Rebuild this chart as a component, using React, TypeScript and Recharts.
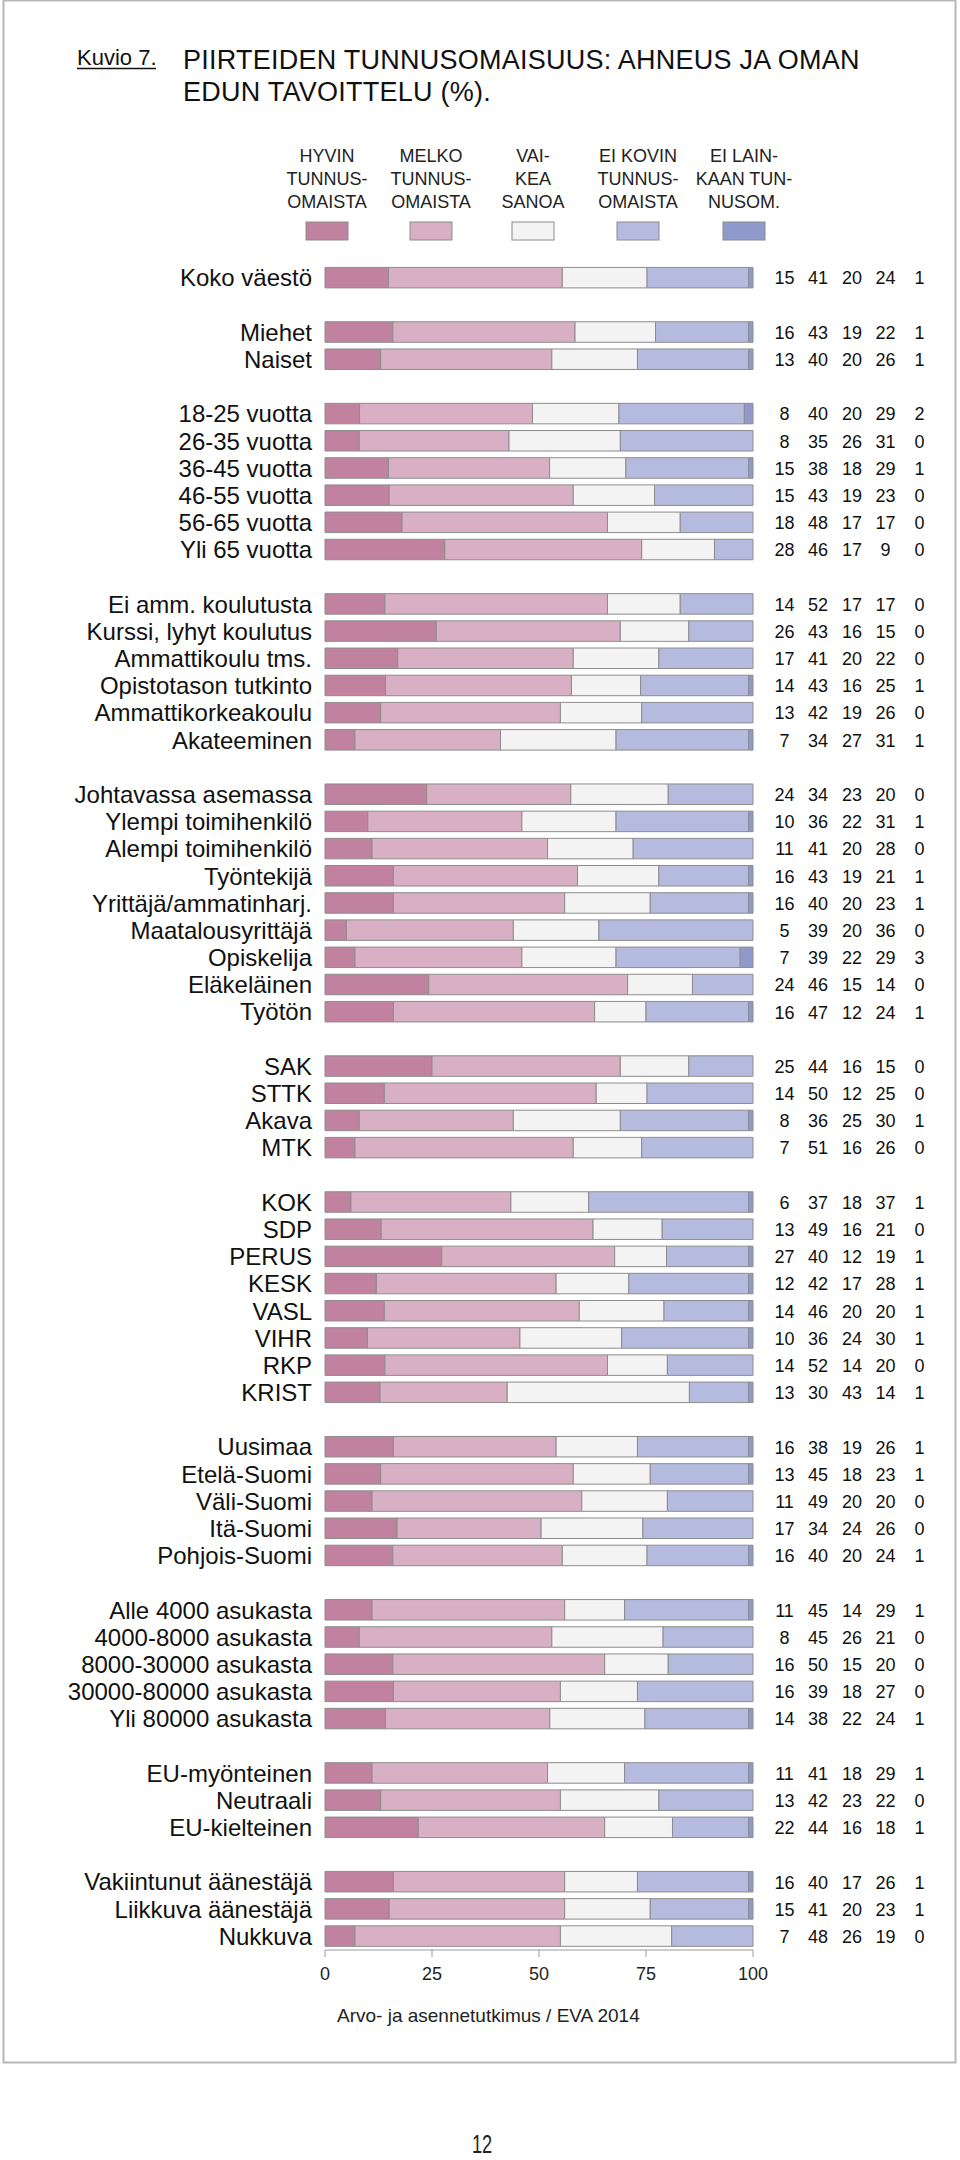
import React from "react";
import { BarChart, Bar, XAxis, YAxis } from "recharts";

const FONT = "'Liberation Sans', Arial, Helvetica, sans-serif";

const categories = [
  "Koko väestö",
  "Miehet", "Naiset",
  "18-25 vuotta", "26-35 vuotta", "36-45 vuotta", "46-55 vuotta", "56-65 vuotta", "Yli 65 vuotta",
  "Ei amm. koulutusta", "Kurssi, lyhyt koulutus", "Ammattikoulu tms.", "Opistotason tutkinto", "Ammattikorkeakoulu", "Akateeminen",
  "Johtavassa asemassa", "Ylempi toimihenkilö", "Alempi toimihenkilö", "Työntekijä", "Yrittäjä/ammatinharj.", "Maatalousyrittäjä", "Opiskelija", "Eläkeläinen", "Työtön",
  "SAK", "STTK", "Akava", "MTK",
  "KOK", "SDP", "PERUS", "KESK", "VASL", "VIHR", "RKP", "KRIST",
  "Uusimaa", "Etelä-Suomi", "Väli-Suomi", "Itä-Suomi", "Pohjois-Suomi",
  "Alle 4000 asukasta", "4000-8000 asukasta", "8000-30000 asukasta", "30000-80000 asukasta", "Yli 80000 asukasta",
  "EU-myönteinen", "Neutraali", "EU-kielteinen",
  "Vakiintunut äänestäjä", "Liikkuva äänestäjä", "Nukkuva",
];

const groupSizes = [1, 2, 6, 6, 9, 4, 8, 5, 5, 3, 3];

const hyvin = [15, 16, 13, 8, 8, 15, 15, 18, 28, 14, 26, 17, 14, 13, 7, 24, 10, 11, 16, 16, 5, 7, 24, 16, 25, 14, 8, 7, 6, 13, 27, 12, 14, 10, 14, 13, 16, 13, 11, 17, 16, 11, 8, 16, 16, 14, 11, 13, 22, 16, 15, 7];
const melko = [41, 43, 40, 40, 35, 38, 43, 48, 46, 52, 43, 41, 43, 42, 34, 34, 36, 41, 43, 40, 39, 39, 46, 47, 44, 50, 36, 51, 37, 49, 40, 42, 46, 36, 52, 30, 38, 45, 49, 34, 40, 45, 45, 50, 39, 38, 41, 42, 44, 40, 41, 48];
const vaikea = [20, 19, 20, 20, 26, 18, 19, 17, 17, 17, 16, 20, 16, 19, 27, 23, 22, 20, 19, 20, 20, 22, 15, 12, 16, 12, 25, 16, 18, 16, 12, 17, 20, 24, 14, 43, 19, 18, 20, 24, 20, 14, 26, 15, 18, 22, 18, 23, 16, 17, 20, 26];
const eiKovin = [24, 22, 26, 29, 31, 29, 23, 17, 9, 17, 15, 22, 25, 26, 31, 20, 31, 28, 21, 23, 36, 29, 14, 24, 15, 25, 30, 26, 37, 21, 19, 28, 20, 30, 20, 14, 26, 23, 20, 26, 24, 29, 21, 20, 27, 24, 29, 22, 18, 26, 23, 19];
const eiLainkaan = [1, 1, 1, 2, 0, 1, 0, 0, 0, 0, 0, 0, 1, 0, 1, 0, 1, 0, 1, 1, 0, 3, 0, 1, 0, 0, 1, 0, 1, 0, 1, 1, 1, 1, 0, 1, 1, 1, 0, 0, 1, 1, 0, 0, 0, 1, 1, 0, 1, 1, 1, 0];

const seriesKeys = ["hyvin", "melko", "vaikea", "eiKovin", "eiLainkaan"];
const seriesColors = ["#c1829f", "#d9b0c3", "#f3f3f3", "#b4bbdf", "#8f99cc"];
const legendLines = [
  ["HYVIN", "TUNNUS-", "OMAISTA"],
  ["MELKO", "TUNNUS-", "OMAISTA"],
  ["VAI-", "KEA", "SANOA"],
  ["EI KOVIN", "TUNNUS-", "OMAISTA"],
  ["EI LAIN-", "KAAN TUN-", "NUSOM."],
];
const xTicks = [0, 25, 50, 75, 100];

type Row = {
  id: string;
  label: string;
  gap: boolean;
  hyvin: number | null;
  melko: number | null;
  vaikea: number | null;
  eiKovin: number | null;
  eiLainkaan: number | null;
};

const rows: Row[] = [];
{
  let k = 0;
  groupSizes.forEach((size, g) => {
    for (let i = 0; i < size; i++) {
      rows.push({
        id: "r" + k,
        label: categories[k],
        gap: false,
        hyvin: hyvin[k],
        melko: melko[k],
        vaikea: vaikea[k],
        eiKovin: eiKovin[k],
        eiLainkaan: eiLainkaan[k],
      });
      k++;
    }
    if (g < groupSizes.length - 1) {
      rows.push({ id: "g" + g, label: "", gap: true, hyvin: null, melko: null, vaikea: null, eiKovin: null, eiLainkaan: null });
    }
  });
}
const rowById: Record<string, Row> = {};
rows.forEach((r) => (rowById[r.id] = r));

const LeftTick = (props: any) => {
  const { x, y, payload } = props;
  const row = rowById[payload.value];
  if (!row || row.gap) return null;
  return (
    <text x={x} y={y} dy="0.35em" textAnchor="end" fontFamily={FONT} fontSize={24} fill="#111">
      {row.label}
    </text>
  );
};

const colOffsets = [31.5, 65, 99, 132.5, 166.5];

const RightTick = (props: any) => {
  const { x, y, payload } = props;
  const row = rowById[payload.value];
  if (!row || row.gap) return null;
  const vals = [row.hyvin, row.melko, row.vaikea, row.eiKovin, row.eiLainkaan];
  return (
    <g>
      {vals.map((v, i) => (
        <text key={i} x={x + colOffsets[i]} y={y} dy="0.36em" textAnchor="middle" fontFamily={FONT} fontSize={18} fill="#111">
          {v}
        </text>
      ))}
    </g>
  );
};

const legendCx = [327, 431, 533, 638, 744];

export default function App() {
  return (
    <div style={{ position: "absolute", left: 0, top: 0, width: 960, height: 2160, background: "#fff" }}>
      <svg width={960} height={2160} style={{ position: "absolute", left: 0, top: 0 }}>
        <rect x={3.5} y={0.5} width={952} height={2062} fill="none" stroke="#b8b8b8" strokeWidth={2} />
        <text x={77} y={65} fontFamily={FONT} fontSize={22} fill="#111">Kuvio 7.</text>
        <line x1={77} x2={156} y1={68.5} y2={68.5} stroke="#111" strokeWidth={1.3} />
        <text x={183} y={69} fontFamily={FONT} fontSize={27} letterSpacing={0.25} fill="#111">
          PIIRTEIDEN TUNNUSOMAISUUS: AHNEUS JA OMAN
        </text>
        <text x={183} y={101} fontFamily={FONT} fontSize={27} letterSpacing={0.25} fill="#111">
          EDUN TAVOITTELU (%).
        </text>
        {legendLines.map((lines, i) => (
          <g key={i}>
            {lines.map((ln, j) => (
              <text key={j} x={legendCx[i]} y={162 + j * 23} textAnchor="middle" fontFamily={FONT} fontSize={18} fill="#222">
                {ln}
              </text>
            ))}
            <rect x={legendCx[i] - 21} y={222} width={42} height={18} fill={seriesColors[i]} stroke="#8c8c8c" strokeWidth={1} />
          </g>
        ))}
        <text x={337} y={2022} fontFamily={FONT} fontSize={19} fill="#222">
          Arvo- ja asennetutkimus / EVA 2014
        </text>
        <text transform="translate(482,2153) scale(0.7,1)" textAnchor="middle" fontFamily={FONT} fontSize={26} fill="#222">
          12
        </text>
      </svg>
      <div style={{ position: "absolute", left: 0, top: 0 }}>
        <BarChart
          width={960}
          height={2000}
          data={rows}
          layout="vertical"
          stackOffset="expand"
          margin={{ top: 264.4, right: 0, bottom: 10, left: 0 }}
        >
          <XAxis
            type="number"
            domain={[0, 1]}
            ticks={xTicks.map((t) => t / 100)}
            tickFormatter={(v: number) => String(Math.round(v * 100))}
            axisLine={{ stroke: "#9a9a9a" }}
            tickLine={{ stroke: "#9a9a9a" }}
            tickSize={7}
            tickMargin={10}
            height={40}
            tick={{ fontFamily: FONT, fontSize: 18, fill: "#222" }}
          />
          <YAxis
            type="category"
            dataKey="id"
            width={325}
            axisLine={false}
            tickLine={false}
            tickSize={0}
            tickMargin={13}
            interval={0}
            tick={<LeftTick />}
          />
          <YAxis
            yAxisId="right"
            orientation="right"
            type="category"
            dataKey="id"
            width={207}
            axisLine={false}
            tickLine={false}
            tickSize={0}
            tickMargin={0}
            interval={0}
            tick={<RightTick />}
          />
          {seriesKeys.map((k, i) => (
            <Bar
              key={k}
              dataKey={k}
              stackId="a"
              fill={seriesColors[i]}
              stroke="#8c8c8c"
              strokeWidth={1}
              barSize={20.5}
              isAnimationActive={false}
            />
          ))}
        </BarChart>
      </div>
    </div>
  );
}
